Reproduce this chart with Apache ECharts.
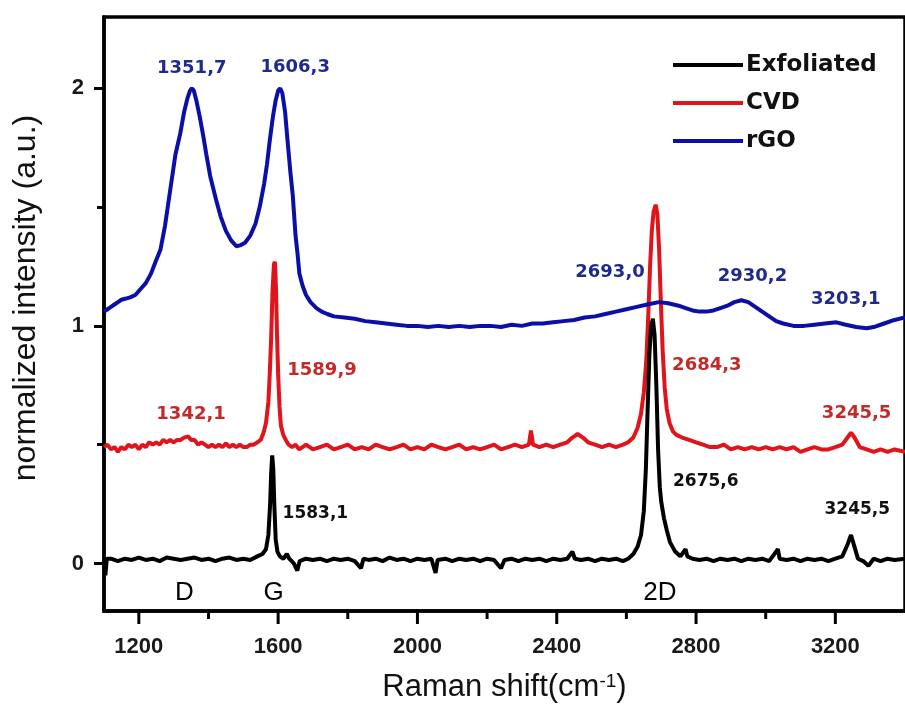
<!DOCTYPE html>
<html>
<head>
<meta charset="utf-8">
<script src="https://cdn.jsdelivr.net/npm/echarts@6/dist/echarts.min.js"></script>
<style>html,body{margin:0;padding:0;background:#fff}#c{width:905px;height:711px}</style>
</head>
<body>
<div id="c"></div>
<script>
// ---- data (x = Raman shift cm^-1, y = normalized intensity) ----
const seriesNames = ['Exfoliated', 'CVD', 'rGO'];

const exfoliated = [
[1100,0.02],[1104,-0.05],[1108,0.02],[1120,0.02],[1140,0.01],[1160,0.02],[1180,0.015],[1200,0.025],
[1220,0.015],[1240,0.02],[1260,0.01],[1280,0.025],[1300,0.02],[1320,0.015],[1340,0.02],[1360,0.025],
[1380,0.015],[1400,0.02],[1420,0.01],[1440,0.02],[1460,0.025],[1480,0.015],[1500,0.02],[1520,0.015],
[1540,0.03],[1555,0.04],[1565,0.06],[1572,0.12],[1577,0.25],[1580,0.38],[1583,0.455],[1586,0.40],
[1589,0.25],[1593,0.10],[1598,0.05],[1605,0.03],[1615,0.02],[1625,0.04],[1632,0.02],[1645,0.0],
[1655,-0.03],[1662,0.01],[1680,0.02],[1700,0.015],[1720,0.02],[1740,0.01],[1760,0.02],[1780,0.015],
[1800,0.02],[1820,0.01],[1838,-0.02],[1845,0.02],[1860,0.015],[1880,0.02],[1900,0.01],[1920,0.025],
[1940,0.015],[1960,0.02],[1980,0.01],[2000,0.02],[2020,0.015],[2040,0.02],[2052,-0.04],[2058,0.015],
[2080,0.02],[2100,0.01],[2120,0.02],[2140,0.015],[2160,0.02],[2180,0.01],[2200,0.02],[2220,0.015],
[2240,-0.02],[2250,0.015],[2270,0.02],[2290,0.01],[2310,0.02],[2330,0.015],[2350,0.02],[2370,0.01],
[2390,0.02],[2410,0.015],[2430,0.02],[2445,0.05],[2452,0.02],[2470,0.015],[2490,0.02],[2510,0.01],
[2530,0.02],[2550,0.015],[2570,0.02],[2590,0.01],[2605,0.02],[2620,0.04],[2632,0.07],[2642,0.12],
[2650,0.22],[2656,0.40],[2661,0.65],[2666,0.88],[2671,1.0],[2676,1.03],[2681,0.96],[2686,0.75],
[2691,0.48],[2696,0.32],[2700,0.26],[2708,0.19],[2716,0.14],[2725,0.09],[2740,0.05],[2755,0.03],
[2770,0.06],[2775,0.03],[2790,0.02],[2810,0.015],[2830,0.02],[2850,0.01],[2870,0.02],[2890,0.015],
[2910,0.02],[2930,0.01],[2950,0.02],[2970,0.015],[2990,0.02],[3010,0.01],[3035,0.06],[3040,0.02],
[3060,0.015],[3080,0.02],[3100,0.01],[3120,0.02],[3140,0.015],[3160,0.02],[3180,0.01],[3200,0.02],
[3220,0.03],[3235,0.08],[3245,0.12],[3255,0.07],[3265,0.02],[3280,0.01],[3295,-0.01],[3310,0.02],
[3330,0.01],[3350,0.02],[3370,0.015],[3400,0.02]
];

const cvd = [
[1100,0.49],[1110,0.50],[1120,0.48],[1130,0.49],[1140,0.47],[1150,0.49],[1160,0.48],[1170,0.50],
[1180,0.49],[1190,0.50],[1200,0.48],[1210,0.50],[1220,0.49],[1230,0.51],[1240,0.50],[1250,0.51],
[1260,0.50],[1270,0.52],[1280,0.51],[1290,0.52],[1300,0.51],[1310,0.52],[1320,0.52],[1330,0.53],
[1342,0.535],[1350,0.52],[1360,0.52],[1370,0.50],[1380,0.51],[1390,0.50],[1400,0.49],[1410,0.50],
[1420,0.49],[1430,0.50],[1440,0.49],[1450,0.505],[1460,0.49],[1470,0.50],[1480,0.49],[1490,0.50],
[1500,0.49],[1510,0.49],[1520,0.50],[1530,0.50],[1540,0.51],[1550,0.52],[1558,0.55],[1565,0.59],
[1572,0.68],[1576,0.80],[1580,0.95],[1584,1.15],[1588,1.26],[1591,1.27],[1594,1.15],[1597,0.95],
[1600,0.80],[1604,0.66],[1608,0.58],[1615,0.54],[1622,0.52],[1630,0.50],[1640,0.49],[1650,0.50],
[1660,0.48],[1670,0.49],[1680,0.50],[1700,0.48],[1720,0.49],[1740,0.50],[1760,0.48],[1780,0.49],
[1800,0.50],[1820,0.48],[1840,0.49],[1860,0.48],[1880,0.50],[1900,0.49],[1920,0.48],[1940,0.49],
[1960,0.50],[1980,0.48],[2000,0.49],[2020,0.48],[2040,0.50],[2060,0.49],[2080,0.48],[2100,0.49],
[2120,0.50],[2140,0.48],[2160,0.49],[2180,0.48],[2200,0.49],[2220,0.50],[2240,0.48],[2260,0.49],
[2280,0.50],[2300,0.49],[2320,0.50],[2326,0.56],[2332,0.50],[2350,0.49],[2370,0.50],[2390,0.49],
[2410,0.50],[2430,0.51],[2445,0.53],[2460,0.545],[2475,0.53],[2490,0.51],[2510,0.50],[2530,0.49],
[2550,0.50],[2570,0.49],[2590,0.50],[2605,0.51],[2620,0.53],[2632,0.57],[2642,0.63],[2650,0.72],
[2657,0.85],[2663,1.05],[2668,1.25],[2673,1.40],[2678,1.48],[2684,1.51],[2689,1.47],[2694,1.32],
[2699,1.10],[2704,0.90],[2710,0.74],[2716,0.65],[2724,0.59],[2734,0.555],[2745,0.54],[2760,0.53],
[2780,0.52],[2800,0.51],[2820,0.50],[2840,0.49],[2860,0.49],[2880,0.50],[2900,0.48],[2920,0.49],
[2940,0.48],[2960,0.49],[2980,0.48],[3000,0.49],[3020,0.48],[3040,0.49],[3060,0.48],[3080,0.49],
[3100,0.47],[3120,0.48],[3140,0.49],[3160,0.48],[3180,0.48],[3200,0.49],[3220,0.50],[3235,0.53],
[3245,0.55],[3255,0.53],[3270,0.49],[3290,0.48],[3310,0.47],[3330,0.48],[3350,0.47],[3370,0.48],
[3400,0.47]
];

const rgo = [
[1100,1.06],[1110,1.07],[1120,1.08],[1130,1.09],[1140,1.10],[1150,1.11],[1163,1.115],[1175,1.12],
[1190,1.13],[1205,1.155],[1220,1.18],[1235,1.22],[1248,1.27],[1262,1.32],[1275,1.42],[1285,1.52],
[1295,1.62],[1305,1.72],[1319,1.81],[1330,1.90],[1340,1.96],[1347,1.99],[1352,2.00],[1358,1.99],
[1365,1.95],[1375,1.88],[1385,1.80],[1394,1.72],[1405,1.63],[1422,1.53],[1435,1.46],[1450,1.40],
[1465,1.36],[1480,1.335],[1493,1.34],[1505,1.35],[1520,1.38],[1535,1.43],[1547,1.50],[1560,1.60],
[1568,1.68],[1576,1.78],[1585,1.88],[1593,1.95],[1600,1.99],[1606,2.00],[1612,1.98],[1620,1.90],
[1627,1.78],[1635,1.65],[1642,1.55],[1650,1.38],[1656,1.30],[1661,1.22],[1670,1.17],[1680,1.13],
[1693,1.10],[1710,1.075],[1725,1.06],[1741,1.05],[1760,1.04],[1790,1.035],[1820,1.03],[1850,1.02],
[1880,1.015],[1910,1.01],[1940,1.005],[1970,1.0],[2000,1.0],[2030,0.995],[2060,1.0],[2090,0.995],
[2120,1.0],[2150,0.995],[2180,1.0],[2210,1.0],[2240,0.995],[2270,1.005],[2300,1.0],[2330,1.01],
[2360,1.01],[2390,1.015],[2420,1.02],[2450,1.025],[2480,1.035],[2510,1.04],[2540,1.05],[2570,1.06],
[2600,1.07],[2630,1.08],[2660,1.09],[2693,1.10],[2720,1.095],[2750,1.085],[2770,1.075],[2790,1.065],
[2810,1.06],[2830,1.06],[2850,1.065],[2870,1.075],[2890,1.085],[2910,1.10],[2930,1.108],[2950,1.10],
[2970,1.08],[2990,1.06],[3010,1.04],[3030,1.02],[3050,1.01],[3080,1.0],[3110,1.0],[3140,1.005],
[3170,1.01],[3203,1.015],[3230,1.005],[3260,0.995],[3290,0.99],[3310,0.995],[3340,1.01],[3370,1.025],
[3400,1.035]
];

// peak annotations: [x, y, text]
const rgoNotes = [[1352,2.084,'1351,7'],[1649,2.09,'1606,3'],[2553,1.225,'2693,0'],[2962,1.208,'2930,2'],[3230,1.11,'3203,1']];
const cvdNotes = [[1350,0.627,'1342,1'],[1726,0.813,'1589,9'],[2831,0.834,'2684,3'],[3261,0.63,'3245,5']];
const exfNotes = [[1707,0.21,'1583,1'],[2828,0.343,'2675,6'],[3263,0.225,'3245,5']];
const bandNotes = [[1331,-0.124,'D'],[1587,-0.124,'G'],[2696,-0.124,'2D']];

const xMajor = [1200,1600,2000,2400,2800,3200];
const xAllTicks = [1200,1400,1600,1800,2000,2200,2400,2600,2800,3000,3200];
const yMajor = [0,1,2];
const yMinor = [0.5,1.5];

// ---- chart ----
const colors = {Exfoliated:'#000000', CVD:'#e0141a', rGO:'#0b0fa8'};
const FONT = 'Liberation Sans, Arial, sans-serif';
const NFONT = 'DejaVu Sans, sans-serif';
const gridBox = {left:104, top:17, right:-7, bottom:100};
const Y_MIN = -0.2, Y_MAX = 2.3;

function noteSeries(notes, color, font, size, weight) {
  return {
    type:'scatter', symbolSize:0, silent:true, z:5,
    itemStyle:{opacity:1},
    data: notes.map(n => ({value:[n[0], n[1]], name:n[2]})),
    label:{show:true, position:'inside', formatter:'{b}', color:color, opacity:1,
      fontFamily:font, fontSize:size, fontWeight:weight, textBorderWidth:0}
  };
}
const hiddenAxis = {axisLine:{show:false}, axisTick:{show:false}, axisLabel:{show:false}, splitLine:{show:false}};

const chart = echarts.init(document.getElementById('c'), null, {renderer:'canvas'});
chart.setOption({
  animation:false,
  backgroundColor:'#ffffff',
  grid:[
    Object.assign({show:true, borderColor:'#000', borderWidth:3.5, backgroundColor:'transparent'}, gridBox),
    Object.assign({show:false}, gridBox)
  ],
  legend:{
    data:seriesNames, orient:'vertical', left:668, top:47, itemWidth:70, itemHeight:4, itemGap:12,
    icon:'rect',
    textStyle:{fontFamily:NFONT, fontSize:23, fontWeight:'bold', color:'#111', padding:[0,0,0,-2], lineHeight:26},
    selectedMode:false
  },
  xAxis:[{
    type:'value', gridIndex:0, min:1100, max:3400, position:'bottom',
    axisLine:{show:true, onZero:false, lineStyle:{color:'#000', width:3.5}},
    axisTick:{show:false},
    axisLabel:{customValues:xMajor, margin:25, formatter:v=>String(v), fontFamily:FONT, fontSize:22, fontWeight:'bold', color:'#1a1a1a'},
    splitLine:{show:false},
    name:'Raman shift(cm{sup|-1})', nameLocation:'middle', nameGap:61,
    nameTextStyle:{fontFamily:FONT, fontSize:31, color:'#111',
      rich:{sup:{fontFamily:FONT, fontSize:19, color:'#111', verticalAlign:'top', padding:[0,0,12,0]}}}
  },
  Object.assign({type:'value', gridIndex:1, min:1100, max:3400}, hiddenAxis)
  ],
  yAxis:[{
    type:'value', gridIndex:0, min:Y_MIN, max:Y_MAX, position:'left',
    axisLine:{show:true, onZero:false, lineStyle:{color:'#000', width:3.5}},
    axisTick:{show:true, length:10, customValues:yMajor, lineStyle:{color:'#000', width:3}},
    axisLabel:{customValues:yMajor, margin:20, fontFamily:FONT, fontSize:22, fontWeight:'bold', color:'#1a1a1a'},
    splitLine:{show:false},
    name:'normalized intensity (a.u.)', nameLocation:'middle', nameGap:62,
    nameTextStyle:{fontFamily:FONT, fontSize:32, color:'#111', padding:[0,0,0,32]}
  },{
    type:'value', gridIndex:1, min:Y_MIN, max:Y_MAX, position:'left',
    axisLine:{show:false, onZero:false}, axisLabel:{show:false}, splitLine:{show:false},
    axisTick:{show:true, length:7, customValues:yMinor, lineStyle:{color:'#000', width:3}}
  }],
  series:[
    {name:'CVD', type:'line', data:cvd, symbol:'none', z:2, lineStyle:{color:colors.CVD, width:4}, itemStyle:{color:colors.CVD}},
    {name:'Exfoliated', type:'line', data:exfoliated, symbol:'none', z:3, lineStyle:{color:colors.Exfoliated, width:4}, itemStyle:{color:colors.Exfoliated}},
    {name:'rGO', type:'line', data:rgo, symbol:'none', z:4, lineStyle:{color:colors.rGO, width:4}, itemStyle:{color:colors.rGO}},
    noteSeries(rgoNotes, '#1f2a8a', NFONT, 18, 'bold'),
    noteSeries(cvdNotes, '#c22a2a', NFONT, 18, 'bold'),
    noteSeries(exfNotes, '#111111', NFONT, 17, 'bold'),
    noteSeries(bandNotes, '#000000', FONT, 26, 'normal'),
    {
      // x-axis tick marks hanging below the frame, placed through the axis scale
      type:'custom', silent:true, clip:false, z:6,
      data: xAllTicks.map(v => [v, Y_MIN]),
      encode:{x:0, y:1},
      renderItem: function(params, api) {
        const v = api.value(0);
        const p = api.coord([v, api.value(1)]);
        const len = xMajor.indexOf(v) >= 0 ? 13 : 8;
        return {type:'line', shape:{x1:p[0], y1:p[1], x2:p[0], y2:p[1] + len},
                style:{stroke:'#000', lineWidth:3}};
      }
    }
  ]
});
</script>
</body>
</html>
